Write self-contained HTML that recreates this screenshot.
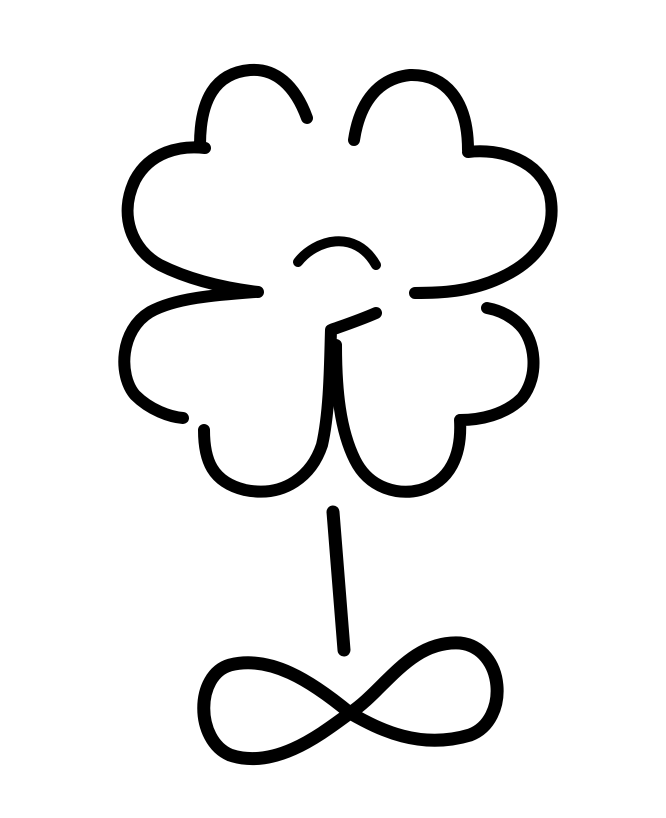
<!DOCTYPE html>
<html><head><style>html,body{margin:0;padding:0;background:#fff;}svg{display:block}</style></head>
<body>
<svg width="666" height="818" viewBox="0 0 666 818" xmlns="http://www.w3.org/2000/svg">
<g fill="none" stroke="#000" stroke-linecap="round" stroke-linejoin="round">
<!-- top-left petal -->
<path stroke-width="12" d="M307,118 C295,85 275,68 250,70 C215,73 200,100 200,145 M205,148 C180,145 150,152 135,180 C118,215 132,250 160,265 C190,280 225,288 258,292"/>
<!-- top-right petal -->
<path stroke-width="12" d="M354,140 C360,100 380,78 410,75 C445,74 468,100 468,150 M468,152 C500,148 540,160 550,195 C558,235 535,262 500,278 C470,292 440,293 415,293"/>
<!-- center arc -->
<path stroke-width="10" d="M298,262 C315,240 355,228 376,265"/>
<!-- bottom-left petal -->
<path stroke-width="12" d="M255,292 C215,295 175,298 150,312 C120,330 118,375 135,395 C150,410 170,417 183,418 M204,430 C204,460 212,482 245,490 C285,498 312,475 322,445 C330,410 330,360 331,330 C345,325 360,320 376,313"/>
<!-- bottom-right petal -->
<path stroke-width="12" d="M336,345 C336,390 340,430 355,460 C370,490 400,495 420,490 C450,482 462,455 460,420 C480,420 505,415 522,398 C540,375 535,340 520,325 C510,315 498,310 487,308"/>
<!-- stem -->
<path stroke-width="13" d="M333,512 L344,650"/>
<!-- infinity -->
<path stroke-width="13" d="M350,713 C310,680 270,655 230,665 C195,675 195,740 230,755 C275,770 320,735 350,713 C385,690 410,640 460,643 C505,648 510,720 470,735 C420,750 380,730 350,713 Z"/>
</g>
</svg>
</body></html>
